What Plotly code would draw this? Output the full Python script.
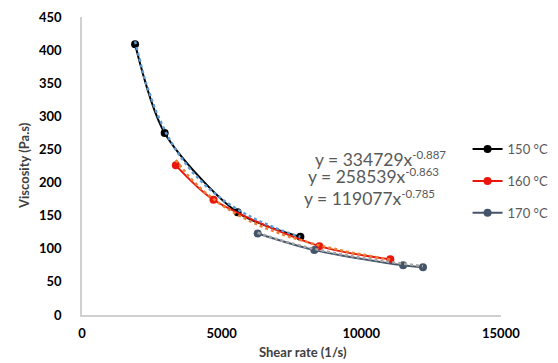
import plotly.graph_objects as go

# Data
shear_150 = [1900, 2960, 5570, 7820]
visc_150 = [409, 275, 155, 118]

shear_160 = [3360, 4710, 8500, 11040]
visc_160 = [226, 174, 104, 84]

shear_170 = [6290, 8320, 11500, 12210]
visc_170 = [123, 98, 75, 72]

series_names = ["150 °C", "160 °C", "170 °C"]
series_colors = ["#000000", "#E8160C", "#44546A"]

# Power-law trendline coefficients shown on the chart (y = a * x^b)
trend_a = [334729, 258539, 119077]
trend_b = [-0.887, -0.863, -0.785]
trend_colors = ["#5B9BD5", "#ED7D31", "#A5A5A5"]

x_ticks = [0, 5000, 10000, 15000]
y_ticks = [0, 50, 100, 150, 200, 250, 300, 350, 400, 450]

FONT = "Lato"
fig = go.Figure()

xs_all = [shear_150, shear_160, shear_170]
ys_all = [visc_150, visc_160, visc_170]

for i in range(3):
    fig.add_trace(go.Scatter(
        x=xs_all[i], y=ys_all[i], name=series_names[i],
        mode="lines+markers", legendgroup=series_names[i],
        line=dict(color=series_colors[i], width=2, shape="spline", smoothing=0.8),
        marker=dict(color=series_colors[i], size=8, symbol="circle"),
    ))

for i in range(3):
    xmin, xmax = min(xs_all[i]), max(xs_all[i])
    n = 60
    tx = [xmin + (xmax - xmin) * k / (n - 1) for k in range(n)]
    ty = [trend_a[i] * v ** trend_b[i] for v in tx]
    fig.add_trace(go.Scatter(
        x=tx, y=ty, mode="lines", showlegend=False, hoverinfo="skip",
        line=dict(color=trend_colors[i], width=2.5, dash="dot"),
    ))

eqs = [
    "y = 334729x<sup><span style='font-size:11.5px'>-0.887</span></sup>",
    "y = 258539x<sup><span style='font-size:11.5px'>-0.863</span></sup>",
    "y = 119077x<sup><span style='font-size:11.5px'>-0.785</span></sup>",
]
eq_x = [0.628, 0.613, 0.603]
eq_y = [0.522, 0.467, 0.393]
for t, xx, yy in zip(eqs, eq_x, eq_y):
    fig.add_annotation(text=t, x=xx, y=yy, xref="paper", yref="paper",
                       showarrow=False, xanchor="center", yanchor="middle",
                       font=dict(family=FONT, size=17.5, color="#595959"))

fig.add_annotation(text="<b>Shear rate (1/s)</b>", x=0.464, y=-0.124,
                   xref="paper", yref="paper", showarrow=False,
                   xanchor="center", yanchor="middle",
                   font=dict(family=FONT, size=13, color="#404040"))
fig.add_annotation(text="<b>Viscosity (Pa.s)</b>", x=-0.122, y=0.503,
                   xref="paper", yref="paper", showarrow=False, textangle=-90,
                   xanchor="center", yanchor="middle",
                   font=dict(family=FONT, size=13, color="#404040"))

fig.update_layout(
    width=550, height=355,
    margin=dict(l=74, r=0, t=9, b=48, autoexpand=False),
    paper_bgcolor="white", plot_bgcolor="white",
    font=dict(family=FONT, color="#404040"),
    showlegend=True,
    legend=dict(x=0.81, y=0.607, xanchor="left", yanchor="top",
                bgcolor="rgba(0,0,0,0)", tracegroupgap=12,
                font=dict(family=FONT, size=13, color="#595959")),
    xaxis=dict(domain=[0, 0.880], range=[0, 15000], tickvals=x_ticks,
               ticktext=[str(v) for v in x_ticks],
               showgrid=False, zeroline=False, showline=True, linecolor="#D0D0D0",
               linewidth=1.5, ticks="outside", ticklen=6, tickcolor="rgba(0,0,0,0)",
               tickfont=dict(family=FONT, size=13, color="#000000", weight="bold")),
    yaxis=dict(range=[0, 450], tickvals=y_ticks, ticktext=[str(v) for v in y_ticks],
               showgrid=False, zeroline=False, showline=True, linecolor="#D0D0D0",
               linewidth=1.5, ticks="outside", ticklen=16, tickcolor="rgba(0,0,0,0)",
               tickfont=dict(family=FONT, size=13, color="#000000", weight="bold")),
)

fig.write_html("out.html")
